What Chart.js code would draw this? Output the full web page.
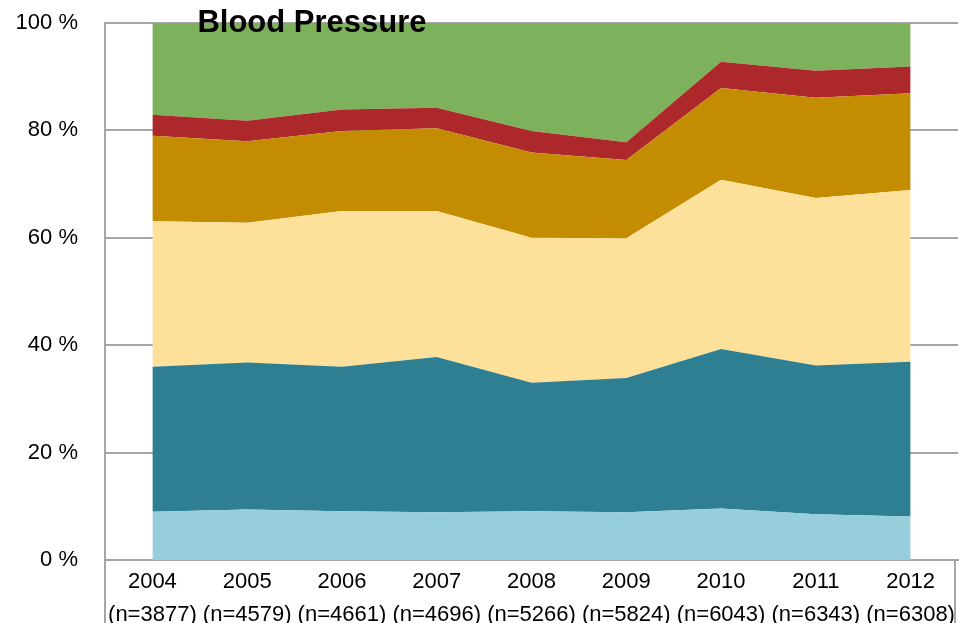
<!DOCTYPE html>
<html>
<head>
<meta charset="utf-8">
<title>Blood Pressure</title>
<script src="https://cdn.jsdelivr.net/npm/chart.js@4"></script>
<style>
    html, body { margin: 0; padding: 0; background: #fff; }
    #wrap { width: 959px; height: 623px; }
</style>
</head>
<body>
<div id="wrap"><canvas id="bp-chart" width="959" height="623"></canvas></div>
<script>
const years = ['2004', '2005', '2006', '2007', '2008', '2009', '2010', '2011', '2012'];
const sampleSizes = ['(n=3877)', '(n=4579)', '(n=4661)', '(n=4696)', '(n=5266)', '(n=5824)', '(n=6043)', '(n=6343)', '(n=6308)'];

// shares in percent, bottom band first
const band1 = [9.0, 9.4, 9.1, 8.9, 9.1, 8.9, 9.6, 8.5, 8.1];
const band2 = [27.0, 27.4, 26.9, 28.9, 23.9, 25.0, 29.7, 27.7, 28.8];
const band3 = [27.1, 26.0, 29.0, 27.2, 27.0, 26.0, 31.5, 31.2, 32.0];
const band4 = [15.9, 15.2, 14.9, 15.4, 15.9, 14.6, 17.1, 18.7, 18.0];
const band5 = [3.9, 3.8, 4.0, 3.8, 4.0, 3.3, 4.9, 5.0, 5.0];
const band6 = [17.1, 18.2, 16.1, 15.8, 20.1, 22.2, 7.2, 8.9, 8.1];

const yTicks = [0, 20, 40, 60, 80, 100];

document.addEventListener('DOMContentLoaded', function () {
    const bands = [band1, band2, band3, band4, band5, band6];
    const colors = ['#97cedc', '#2e7f91', '#fde19a', '#c48c00', '#ad282b', '#7db15b'];

    const datasets = bands.map(function (values, i) {
        return {
            label: 'band ' + (i + 1),
            data: values,
            backgroundColor: colors[i],
            borderColor: colors[i],
            borderWidth: 0,
            pointRadius: 0,
            fill: i === 0 ? 'origin' : '-1',
            tension: 0
        };
    });

    const titlePlugin = {
        id: 'bpTitle',
        afterDraw: function (chart) {
            const ctx = chart.ctx;
            const area = chart.chartArea;
            ctx.save();
            // little frame lines under the category axis
            ctx.strokeStyle = '#a6a6a6';
            ctx.lineWidth = 2;
            ctx.beginPath();
            ctx.moveTo(area.left, area.bottom);
            ctx.lineTo(area.left, chart.height);
            ctx.moveTo(area.right - 3, area.bottom);
            ctx.lineTo(area.right - 3, chart.height);
            ctx.stroke();
            ctx.fillStyle = '#000';
            ctx.font = 'bold 31px "Liberation Sans", Arial, sans-serif';
            ctx.textAlign = 'center';
            ctx.textBaseline = 'alphabetic';
            ctx.fillText('Blood Pressure', 312, 32);
            ctx.restore();
        }
    };

    function noPad(axis) {
        axis.paddingTop = 0;
        axis.paddingBottom = 0;
        axis.paddingLeft = 0;
        axis.paddingRight = 0;
    }

    const ctxBp = document.getElementById('bp-chart').getContext('2d');
    new Chart(ctxBp, {
        type: 'line',
        data: {
            labels: years.map(function (y, i) { return [y, sampleSizes[i]]; }),
            datasets: datasets
        },
        options: {
            responsive: false,
            animation: false,
            layout: { padding: { top: 23, right: 1, left: 0, bottom: 0 } },
            plugins: {
                legend: { display: false },
                tooltip: { enabled: false }
            },
            scales: {
                x: {
                    offset: true,
                    grid: { display: false, drawTicks: false },
                    border: { display: true, color: '#a6a6a6', width: 2 },
                    ticks: {
                        autoSkip: false,
                        maxRotation: 0,
                        padding: 5,
                        color: '#000',
                        font: { family: '"Liberation Sans", Arial, sans-serif', size: 22, lineHeight: 1.5 }
                    },
                    afterFit: function (axis) { axis.height = 63; noPad(axis); }
                },
                y: {
                    stacked: true,
                    min: 0,
                    max: 100,
                    afterBuildTicks: function (axis) {
                        axis.ticks = yTicks.map(function (v) { return { value: v }; });
                    },
                    grid: { color: '#a6a6a6', lineWidth: 2, drawTicks: false },
                    border: { display: true, color: '#a6a6a6', width: 2 },
                    ticks: {
                        padding: 27,
                        color: '#000',
                        font: { family: '"Liberation Sans", Arial, sans-serif', size: 22 },
                        callback: function (v) { return v + ' %'; }
                    },
                    afterFit: function (axis) { axis.width = 105; noPad(axis); }
                }
            }
        },
        plugins: [titlePlugin]
    });
});
</script>
</body>
</html>
